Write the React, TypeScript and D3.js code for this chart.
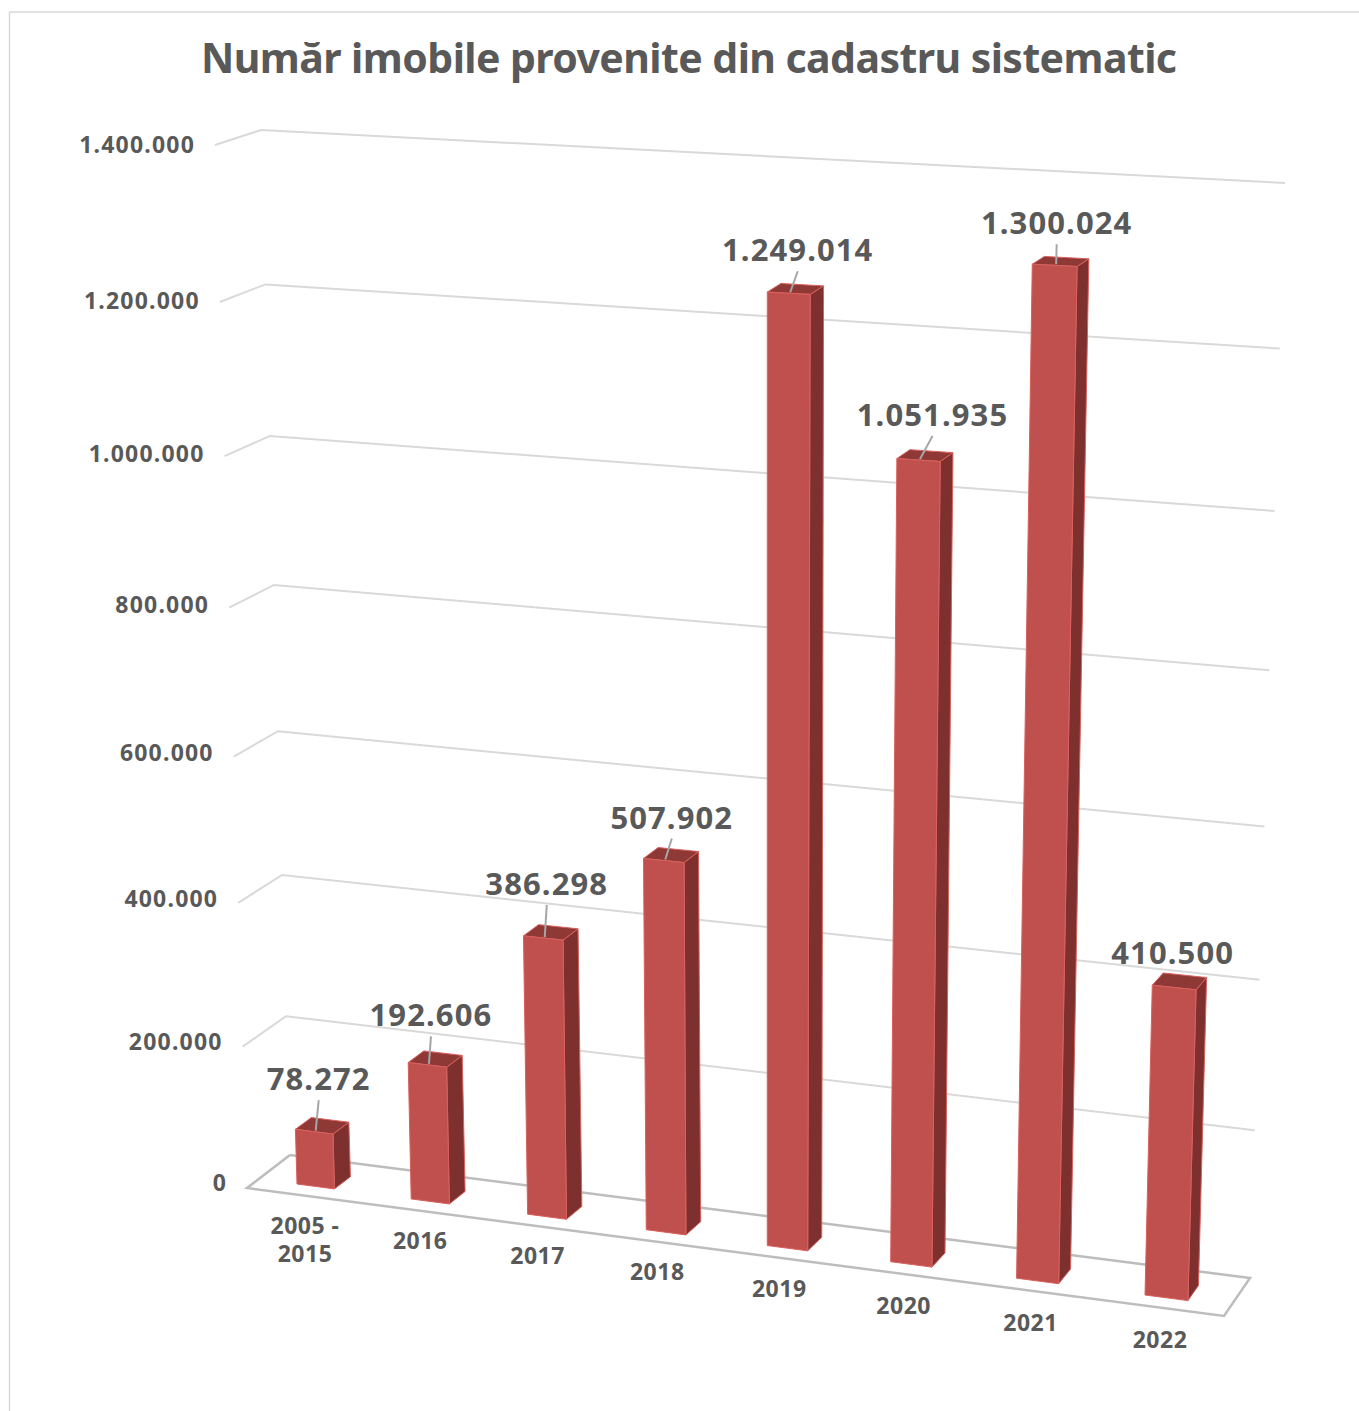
import React from "react";
import * as d3 from "d3";

const title = "Număr imobile provenite din cadastru sistematic";
const categories = [["2005 -", "2015"], ["2016"], ["2017"], ["2018"], ["2019"], ["2020"], ["2021"], ["2022"]];
const values = [78272, 192606, 386298, 507902, 1249014, 1051935, 1300024, 410500];
const ticks = [0, 200000, 400000, 600000, 800000, 1000000, 1200000, 1400000];
const valueMax = 1400000;
const labelShiftX = [4.5, 3.5, 3.5, 8, 9, 14, 2, -1.5];
const labelShiftY = [-41.5, -38.5, -43, -32, -32, -34, -31, -24];
const hasLeader = [true, true, true, true, true, true, true, false];

type P = [number, number];
// projective map of the unit square: corners in the order (0,0),(1,0),(1,1),(0,1)
function projective([p0, p1, p2, p3]: P[]) {
  const dx1 = p1[0] - p2[0], dx2 = p3[0] - p2[0], sx = p0[0] - p1[0] + p2[0] - p3[0];
  const dy1 = p1[1] - p2[1], dy2 = p3[1] - p2[1], sy = p0[1] - p1[1] + p2[1] - p3[1];
  const den = dx1 * dy2 - dx2 * dy1;
  const g = (sx * dy2 - dx2 * sy) / den, h = (dx1 * sy - sx * dy1) / den;
  const a = p1[0] - p0[0] + g * p1[0], b = p3[0] - p0[0] + h * p3[0];
  const d = p1[1] - p0[1] + g * p1[1], e = p3[1] - p0[1] + h * p3[1];
  return (s: number, t: number): P => {
    const w = g * s + h * t + 1;
    return [(a * s + b * t + p0[0]) / w, (d * s + e * t + p0[1]) / w];
  };
}

const sU = d3.scaleLinear().domain([0, categories.length - 1]).range([0, 1]);
const sV = d3.scaleLinear().domain([0, valueMax]).range([0, 1]);
const barWidth = 0.33;

const wall = projective([[290, 1155], [1250, 1278], [1285, 183], [261, 130]]);
const front = projective([[297, 1184], [1145, 1295], [1171, 187], [267, 147]]);
const back = projective([[313, 1172], [1156, 1280], [1182, 180], [281, 137]]);
const stubX = d3.scaleLinear().domain([0, valueMax]).range([-43, -46]);
const stubY = d3.scaleLinear().domain([0, valueMax]).range([33, 15]);
const tickDy = d3.scaleLinear().domain([0, valueMax]).range([3, 7.5]);
const catDy = d3.scaleLinear().domain([0, categories.length - 1]).range([49, 53]);
const floor: P[] = [[290, 1155], [247, 1188], [1224, 1316], [1250, 1278], [290, 1155]];

const poly = (pts: P[]) => (d3.line()(pts) ?? "") + "Z";
const GREY = "#595959";
const FONT = "'Noto Sans', sans-serif";

export default function App() {
  return (
    <svg width={1359} height={1411} style={{ position: "absolute", left: 0, top: 0, display: "block", background: "#fff" }} fontFamily={FONT}>
      <path d="M1359,12H9.5V1411" fill="none" stroke="#d9d9d9" strokeWidth={1.5} />
      <text x={689} y={73} textAnchor="middle" fontSize={41} fontWeight={700} fill={GREY} textLength={976} lengthAdjust="spacing">{title}</text>

      {ticks.map((t) => {
        const l = wall(0, sV(t)), r = wall(1, sV(t));
        const s: P = [l[0] + stubX(t), l[1] + stubY(t)];
        return (
          <g key={t}>
            {t > 0 && <path d={d3.line()([s, l, r]) ?? ""} fill="none" stroke="#d9d9d9" strokeWidth={2} />}
            <text x={s[0] - 20} y={s[1] + tickDy(t)} textAnchor="end" fontSize={23} fontWeight={700} fill={GREY} letterSpacing={1.2}>{d3.format(",")(t).replace(/,/g, ".")}</text>
          </g>
        );
      })}
      <path d={d3.line()(floor) ?? ""} fill="none" stroke="#bdbdbd" strokeWidth={2.5} />

      {values.map((v, i) => {
        const u0 = sU(i), u1 = sU(i + barWidth), t = sV(v);
        const fbl = front(u0, 0), fbr = front(u1, 0), ftl = front(u0, t), ftr = front(u1, t);
        const bbr = back(u1, 0), btl = back(u0, t), btr = back(u1, t);
        const cx = (ftl[0] + ftr[0]) / 2, cy = (ftl[1] + ftr[1]) / 2;
        const anchor: P = [cx + labelShiftX[i], cy + labelShiftY[i]];
        return (
          <g key={i}>
            <path d={poly([ftr, btr, bbr, fbr])} fill="#7d302e" stroke="#d9605c" strokeWidth={1} />
            <path d={poly([ftl, btl, btr, ftr])} fill="#8f3937" stroke="#d9605c" strokeWidth={1} />
            <path d={poly([fbl, fbr, ftr, ftl])} fill="#c0504d" stroke="#d9605c" strokeWidth={1} />
            {hasLeader[i] && <path d={d3.line()([[anchor[0], anchor[1] + 10], [cx + 1.5, cy - 1]]) ?? ""} stroke="#a6a6a6" strokeWidth={2} />}
            <text x={anchor[0]} y={anchor[1]} textAnchor="middle" fontSize={31} fontWeight={700} fill={GREY} letterSpacing={1.1}>{d3.format(",")(v).replace(/,/g, ".")}</text>
            {categories[i].map((line, j) => {
              const base = front(u0, 0);
              const lines = categories[i].length;
              return (
                <text key={j} x={base[0] + 8 + i} y={base[1] + (lines > 1 ? 50 + j * 28 : catDy(i))} textAnchor="middle" fontSize={23} fontWeight={700} fill={GREY} letterSpacing={0.5}>{line}</text>
              );
            })}
          </g>
        );
      })}
    </svg>
  );
}
